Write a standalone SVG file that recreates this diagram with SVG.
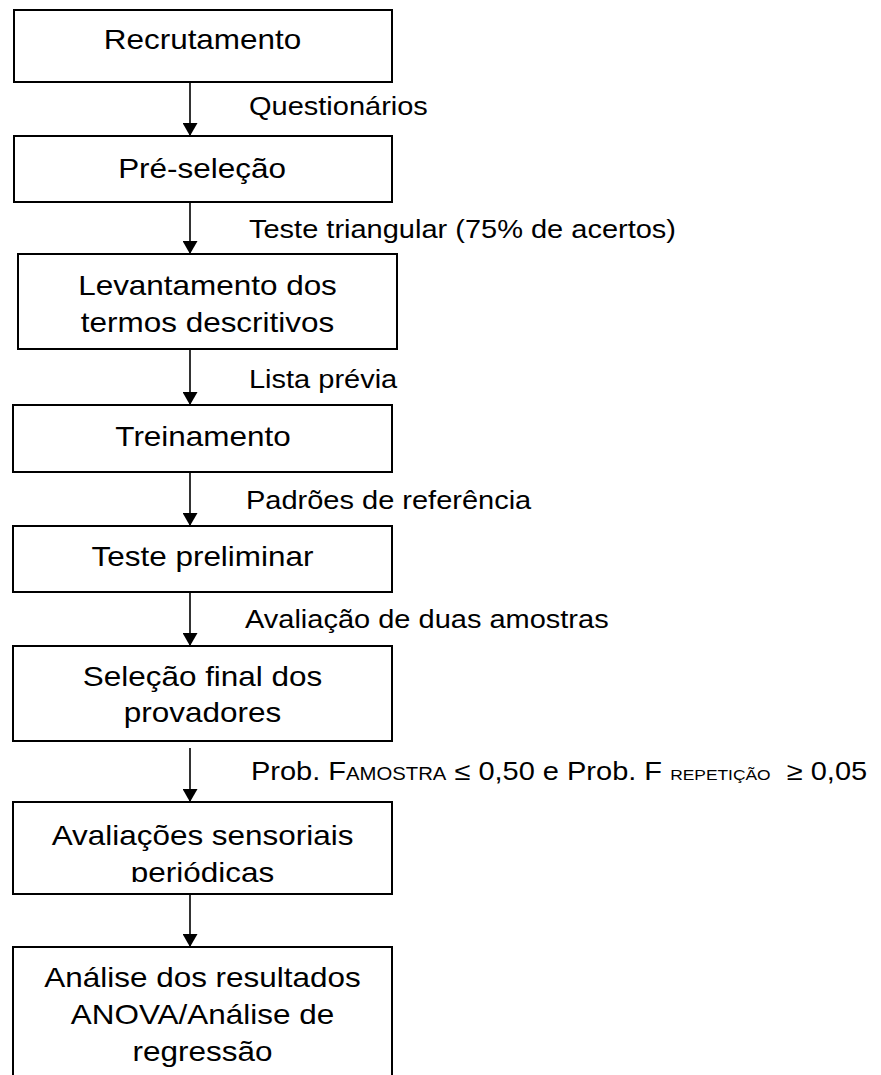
<svg xmlns="http://www.w3.org/2000/svg" width="881" height="1075" viewBox="0 0 881 1075">
<style>
.box{fill:#fff;stroke:#000;stroke-width:2}
.bt{font-family:"Liberation Sans",Arial,sans-serif;font-size:27px;fill:#000;text-anchor:middle}
.lt{font-family:"Liberation Sans",Arial,sans-serif;font-size:25px;fill:#000}
.edge{stroke:#000;stroke-width:1.6;fill:none;marker-end:url(#ah)}
</style>
<defs>
<marker id="ah" viewBox="0 0 13 15" refX="13" refY="7.5" markerWidth="13" markerHeight="15" markerUnits="userSpaceOnUse" orient="auto">
<path d="M0,0 L13,7.5 L0,15 z" fill="#000"/>
</marker>
<clipPath id="clip7"><rect x="13" y="802" width="379" height="80"/></clipPath>
</defs>
<rect width="881" height="1075" fill="#fff"/>

<g id="connectors">
<line class="edge" x1="190" y1="82" x2="190" y2="136"/>
<line class="edge" x1="190" y1="202" x2="190" y2="254"/>
<line class="edge" x1="190" y1="349" x2="190" y2="405"/>
<line class="edge" x1="190" y1="472" x2="190" y2="526"/>
<line class="edge" x1="190" y1="592" x2="190" y2="646"/>
<line class="edge" x1="190" y1="748" x2="190" y2="802"/>
<line class="edge" x1="190" y1="894" x2="190" y2="947"/>
</g>

<g id="labels">
<g transform="translate(249 0) scale(1.16 1)"><text class="lt" x="0" y="115">Questionários</text></g>
<g transform="translate(249 0) scale(1.16 1)"><text class="lt" x="0" y="238">Teste triangular (75% de acertos)</text></g>
<g transform="translate(249 0) scale(1.16 1)"><text class="lt" x="0" y="388">Lista prévia</text></g>
<g transform="translate(246 0) scale(1.16 1)"><text class="lt" x="0" y="509">Padrões de referência</text></g>
<g transform="translate(245 0) scale(1.16 1)"><text class="lt" x="0" y="628">Avaliação de duas amostras</text></g>
<g transform="translate(251 0) scale(1.16 1)"><text class="lt" x="0" y="780" xml:space="preserve">Prob. F<tspan font-size="17.5">AMOSTRA</tspan> ≤ 0,50 e Prob. F <tspan font-size="15">REPETIÇÃO</tspan>  ≥ 0,05</text></g>
</g>

<g id="n1">
<rect class="box" x="14" y="10" width="378" height="72"/>
<g transform="translate(202.5 0) scale(1.165 1)"><text class="bt" x="0" y="49">Recrutamento</text></g>
</g>
<g id="n2">
<rect class="box" x="14" y="136" width="378" height="66"/>
<g transform="translate(202 0) scale(1.165 1)"><text class="bt" x="0" y="178">Pré-seleção</text></g>
</g>
<g id="n3">
<rect class="box" x="18" y="254" width="379" height="95"/>
<g transform="translate(207.5 0) scale(1.165 1)"><text class="bt" x="0" y="295">Levantamento dos</text><text class="bt" x="0" y="332">termos descritivos</text></g>
</g>
<g id="n4">
<rect class="box" x="13" y="405" width="379" height="67"/>
<g transform="translate(203 0) scale(1.165 1)"><text class="bt" x="0" y="446">Treinamento</text></g>
</g>
<g id="n5">
<rect class="box" x="13" y="526" width="379" height="66"/>
<g transform="translate(202.5 0) scale(1.165 1)"><text class="bt" x="0" y="566">Teste preliminar</text></g>
</g>
<g id="n6">
<rect class="box" x="13" y="646" width="379" height="95"/>
<g transform="translate(202.5 0) scale(1.165 1)"><text class="bt" x="0" y="686">Seleção final dos</text><text class="bt" x="0" y="722">provadores</text></g>
</g>
<g id="n7">
<rect class="box" x="13" y="802" width="379" height="92"/>
<g clip-path="url(#clip7)"><g transform="translate(202.5 0) scale(1.165 1)"><text class="bt" x="0" y="845">Avaliações sensoriais</text><text class="bt" x="0" y="882">periódicas</text></g></g>
</g>
<g id="n8">
<rect class="box" x="13" y="947" width="379" height="140"/>
<g transform="translate(202.5 0) scale(1.165 1)"><text class="bt" x="0" y="987">Análise dos resultados</text><text class="bt" x="0" y="1024">ANOVA/Análise de</text><text class="bt" x="0" y="1061">regressão</text></g>
</g>
</svg>
